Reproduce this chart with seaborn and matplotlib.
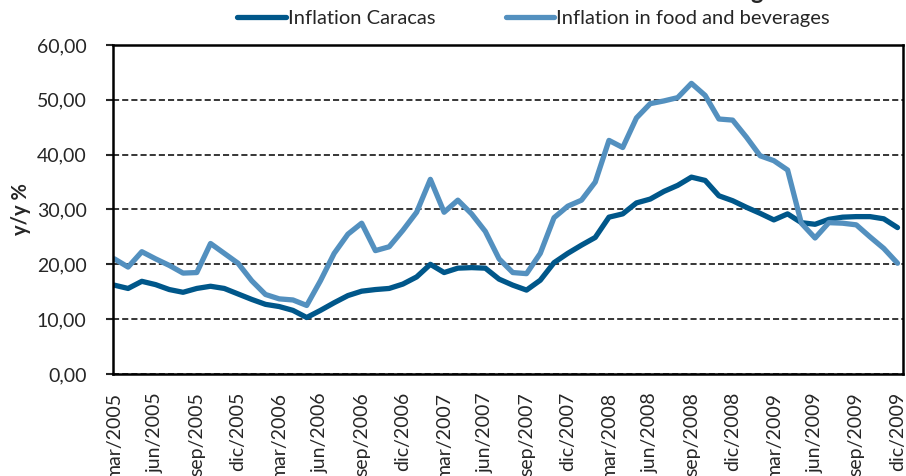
import matplotlib
matplotlib.use('Agg')
import matplotlib.pyplot as plt
from matplotlib.lines import Line2D
import pandas as pd
import seaborn as sns

# monthly labels mar/2005 .. dic/2009 (spanish abbreviations)
month_names = ['mar', 'abr', 'may', 'jun', 'jul', 'ago', 'sep', 'oct', 'nov', 'dic', 'ene', 'feb']
months = []
for k in range(58):
    months.append('{}/{}'.format(month_names[k % 12], 2005 + (k + 2) // 12))

caracas = [16.2, 15.6, 16.9, 16.3, 15.4, 14.9, 15.6, 16.0, 15.6, 14.6,
           13.6, 12.7, 12.3, 11.6, 10.3, 11.6, 13.0, 14.3, 15.1, 15.4,
           15.6, 16.4, 17.7, 20.0, 18.5, 19.3, 19.4, 19.3, 17.3, 16.2,
           15.3, 17.1, 20.3, 22.0, 23.5, 24.9, 28.6, 29.2, 31.2, 31.9,
           33.3, 34.4, 35.9, 35.3, 32.5, 31.6, 30.4, 29.3, 28.1, 29.2,
           27.6, 27.3, 28.2, 28.6, 28.7, 28.7, 28.3, 26.7]

food = [21.0, 19.5, 22.3, 21.0, 19.8, 18.4, 18.5, 23.8, 22.0, 20.2,
        17.0, 14.5, 13.7, 13.5, 12.5, 17.0, 22.0, 25.5, 27.5, 22.5,
        23.2, 26.2, 29.5, 35.5, 29.5, 31.7, 29.2, 26.0, 21.0, 18.5,
        18.3, 22.0, 28.5, 30.6, 31.7, 35.0, 42.6, 41.3, 46.7, 49.3,
        49.8, 50.4, 53.0, 50.8, 46.5, 46.3, 43.2, 39.8, 38.9, 37.2,
        27.5, 24.8, 27.6, 27.5, 27.2, 25.0, 22.9, 20.2]

series_names = ['Inflation Caracas', 'Inflation in food and beverages']
colors = ['#00578A', '#5390BF']

df = pd.DataFrame({
    'pos': list(range(len(months))) * 2,
    'series': [series_names[0]] * len(caracas) + [series_names[1]] * len(food),
    'value': caracas + food,
})

sns.set_style('white')
plt.rcParams['font.family'] = ['Lato', 'DejaVu Sans']

fig = plt.figure(figsize=(9.06, 4.76), dpi=100)
ax = fig.add_axes([0.1247, 0.2143, 0.8720, 0.6912])

sns.lineplot(data=df, x='pos', y='value', hue='series', palette=colors,
             linewidth=3.8, ax=ax, legend=False)
for ln in ax.lines:
    ln.set_solid_capstyle('round')
    ln.set_solid_joinstyle('round')

ax.set_xlim(-0.1, 57.4)
ax.set_ylim(0, 60)
yt = list(range(0, 61, 10))
ax.set_yticks(yt)
ax.set_yticklabels(['{:.2f}'.format(v).replace('.', ',') for v in yt], fontsize=14)
ax.set_xticks(list(range(0, 58, 3)))
ax.set_xticklabels(months[::3], rotation=90, fontsize=14)
ax.tick_params(axis='x', length=0, pad=13)
ax.tick_params(axis='y', length=5, width=1.5, direction='out', pad=14, left=True)

ax.yaxis.grid(True, color='black', linestyle=(0, (4, 2)), linewidth=1.1)
ax.set_axisbelow(True)
for sp in ax.spines.values():
    sp.set_color('black')
    sp.set_linewidth(1.8)

ax.set_xlabel('')
ax.set_ylabel('y/y %', fontsize=14.5, fontweight='bold', labelpad=4)

handles = [Line2D([], [], color=c, linewidth=3.8) for c in colors]
fig.legend(handles, series_names, loc='center', bbox_to_anchor=(0.589, 0.962),
           ncol=2, frameon=False, fontsize=14.5, handlelength=2.4,
           handletextpad=0.1, columnspacing=3.5)

# descender of the cut-off title
fig.text(0.828, 1.0 + 1 / 476, 'g', fontsize=17, fontweight='bold', va='baseline')

fig.savefig('out.png', dpi=100)
